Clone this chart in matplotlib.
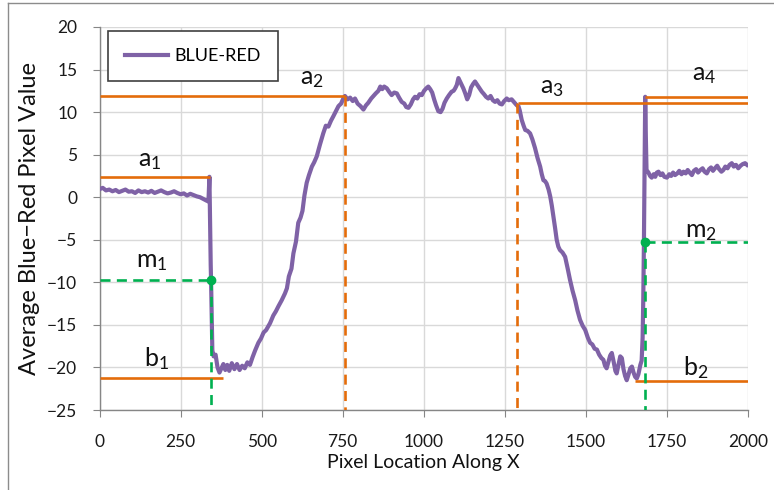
import matplotlib
matplotlib.use("Agg")
import matplotlib.pyplot as plt
from matplotlib.lines import Line2D

plt.rcParams['font.family'] = ['Lato', 'DejaVu Sans']
plt.rcParams['mathtext.fontset'] = 'custom'
plt.rcParams['mathtext.rm'] = 'Lato'
plt.rcParams['mathtext.it'] = 'Lato'

# ---- measured profile: average blue minus red along the row ----
pixel_x = [
    0, 10, 20, 30, 40, 50, 60, 70, 80, 90, 100, 110, 120, 130, 140, 150, 160, 170,
    180, 190, 200, 210, 220, 230, 240, 250, 260, 270, 280, 290, 300, 310, 320, 330,
    336, 339, 343, 344, 346, 348, 352, 358, 364, 370, 376, 382, 388, 394, 400, 408,
    416, 424, 432, 440, 448, 456, 464, 472, 480, 490, 498, 506, 514, 526, 536, 544,
    552, 562, 572, 578, 584, 592, 598, 606, 613, 620, 626, 632, 639, 646, 655, 662,
    670, 680, 690, 698, 706, 714, 721, 729, 737, 745, 752, 757, 765, 773, 781, 788,
    796, 805, 814, 822, 829, 838, 845, 852, 860, 866, 872, 878, 886, 893, 901, 909,
    917, 924, 932, 940, 946, 953, 960, 967, 973, 980, 987, 994, 1001, 1008, 1014,
    1020, 1026, 1032, 1038, 1045, 1052, 1058, 1064, 1071, 1078, 1086, 1092, 1097,
    1102, 1107, 1112, 1117, 1122, 1128, 1134, 1140, 1146, 1152, 1158, 1165, 1172,
    1179, 1186, 1192, 1199, 1206, 1213, 1220, 1227, 1234, 1241, 1248, 1256, 1262,
    1271, 1278, 1287, 1292, 1296, 1302, 1308, 1313, 1320, 1328, 1335, 1343, 1351,
    1359, 1364, 1369, 1374, 1379, 1385, 1390, 1395, 1400, 1405, 1410, 1415, 1420,
    1428, 1436, 1444, 1451, 1459, 1467, 1474, 1482, 1490, 1498, 1506, 1513, 1520,
    1527, 1534, 1541, 1548, 1554, 1559, 1564, 1570, 1575, 1580, 1586, 1591, 1595,
    1600, 1606, 1611, 1616, 1621, 1626, 1631, 1637, 1642, 1647, 1652, 1657, 1662,
    1668, 1672, 1675, 1677, 1679, 1681, 1683, 1685, 1687, 1693, 1698, 1703, 1709,
    1714, 1719, 1724, 1730, 1736, 1742, 1750, 1757, 1763, 1769, 1775, 1782, 1788,
    1795, 1801, 1808, 1814, 1820, 1827, 1833, 1840, 1846, 1853, 1860, 1866, 1873,
    1880, 1886, 1892, 1898, 1905, 1911, 1918, 1924, 1930, 1937, 1943, 1950, 1956,
    1963, 1970, 1977, 1984, 1991, 1997,
]
blue_red = [
    0.95, 1.1, 0.8, 0.9, 0.7, 0.85, 0.6, 0.75, 0.9, 0.65, 0.7, 0.5, 0.8, 0.6, 0.7,
    0.55, 0.75, 0.5, 0.65, 0.8, 0.6, 0.45, 0.55, 0.7, 0.5, 0.35, 0.45, 0.2, 0.4,
    0.25, 0.1, 0.0, -0.2, -0.4,
    -0.5, 2.4, -8.0, -9.7, -14.0, -18.0, -18.7, -18.5, -20.0, -20.6, -20.1, -19.6,
    -20.3, -19.7, -20.4, -19.5, -20.2, -19.6, -20.3, -19.8, -20.1, -19.4, -19.7,
    -18.8, -18.0, -17.1, -16.6, -15.9, -15.6, -14.8, -13.9, -13.4, -12.8, -12.1,
    -11.3, -10.7, -9.3, -8.4, -6.6, -5.2, -3.0, -2.4, -1.6, 0.2, 1.7, 2.6, 3.6, 4.1,
    4.8, 6.2, 7.5, 8.4, 8.3, 9.0, 9.5, 10.1, 10.7, 11.0, 11.6, 11.9, 11.5, 11.7,
    11.3, 11.6, 11.0, 10.7, 10.3, 10.8, 11.1, 11.6, 11.9, 12.2, 12.5, 13.0, 12.7,
    13.0, 12.8, 12.4, 12.0, 12.3, 12.2, 11.7, 11.2, 11.0, 10.6, 10.5, 10.9, 11.5,
    11.8, 11.6, 12.1, 12.0, 12.5, 12.8, 13.0, 12.7, 12.3, 11.5, 10.8, 10.1, 10.0,
    10.4, 11.1, 11.6, 12.0, 12.4, 12.5, 12.8, 13.2, 14.0, 13.6, 13.2, 12.8, 12.2,
    11.5, 12.0, 12.9, 13.3, 13.6, 13.2, 12.8, 12.4, 12.1, 11.8, 11.6, 11.9, 11.4,
    11.2, 11.4, 11.0, 10.9, 11.3, 11.6, 11.4, 11.5, 11.2, 10.8, 10.7, 10.2, 9.1,
    8.4, 7.9, 7.8, 7.5, 6.8, 5.8, 4.6, 3.6, 2.7, 2.0, 1.9, 1.6, 0.9, 0.1, -1.0,
    -2.3, -3.6, -5.0, -5.8, -6.2, -6.5, -7.0, -8.4, -9.7, -11.0, -12.1, -13.3,
    -14.4, -15.1, -15.6, -16.5, -17.1, -17.3, -17.8, -17.9, -18.5, -18.9, -19.1,
    -19.8, -20.1, -19.3, -18.6, -18.3, -19.4, -20.4, -20.7, -19.8, -18.7, -18.9,
    -20.2, -21.0, -21.5, -20.9, -20.1, -19.9, -20.6, -21.1, -21.3, -20.8, -19.7,
    -19.2, -16.5, -12.0, -5.4, 4.0, 11.8, 7.0, 3.2, 2.9, 2.5, 2.3, 2.7, 2.4, 2.9,
    3.0, 2.6, 2.8, 2.4, 2.3, 2.7, 2.5, 2.9, 2.6, 2.8, 3.1, 2.7, 3.0, 2.8, 3.2, 2.9,
    2.6, 3.1, 3.3, 2.9, 3.2, 3.4, 3.0, 2.8, 3.3, 3.5, 3.1, 3.4, 3.7, 3.3, 3.0, 3.2,
    3.6, 3.4, 3.8, 4.0, 3.6, 3.8, 3.4, 3.7, 3.9, 4.0, 3.8,
]

# ---- edge levels (orange), mid-points (green) ----
# name: (y level, x start, x end)
levels = {
    "a1": (2.4, 0, 340),
    "b1": (-21.25, 0, 382),
    "a2": (11.95, 0, 757),
    "a3": (11.05, 1292, 2000),
    "a4": (11.8, 1681, 2000),
    "b2": (-21.6, 1652, 2000),
}
drops = {"a2": 757, "a3": 1289}          # vertical dashed orange markers
mid_x = [345, 1681]
mid_y = [-9.75, -5.3]
mid_span = [(0, 345), (1681, 2000)]

label_text = ["a", "a", "a", "a", "m", "m", "b", "b"]
label_sub = ["1", "2", "3", "4", "1", "2", "1", "2"]
label_x = [155, 655, 1395, 1865, 160, 1855, 175, 1840]
label_y = [4.3, 14.0, 12.9, 14.4, -7.6, -4.0, -19.0, -20.0]

x_ticks = [0, 250, 500, 750, 1000, 1250, 1500, 1750, 2000]
y_ticks = [-25, -20, -15, -10, -5, 0, 5, 10, 15, 20]

PURPLE = "#7f62a6"
ORANGE = "#e46c0a"
GREEN = "#00b050"
GRID = "#d9d9d9"
AXIS = "#868686"

fig = plt.figure(figsize=(7.74, 4.90), dpi=100)
ax = fig.add_axes([99.5 / 774, 1 - 410 / 490, 648.5 / 774, 383 / 490])

line, = ax.plot(pixel_x, blue_red, color=PURPLE, lw=3.0, solid_joinstyle="round",
                zorder=3, label="BLUE-RED")

dash = (0, (3.8, 2.4))
for name, (yv, x0, x1) in levels.items():
    ax.plot([x0, x1], [yv, yv], color=ORANGE, lw=1.9, zorder=4,
            solid_capstyle="butt")
for name, xv in drops.items():
    ax.plot([xv, xv], [levels[name][0], -25], color=ORANGE, lw=1.9,
            linestyle=dash, zorder=4)
for xm, ym, (s0, s1) in zip(mid_x, mid_y, mid_span):
    ax.plot([s0, s1], [ym, ym], color=GREEN, lw=1.9, linestyle=dash, zorder=4)
    ax.plot([xm, xm], [ym, -25], color=GREEN, lw=1.9, linestyle=dash, zorder=4)
ax.plot(mid_x, mid_y, "o", color=GREEN, ms=6, zorder=5)

for t, s, xv, yv in zip(label_text, label_sub, label_x, label_y):
    ax.text(xv, yv, r"$\mathregular{%s_{%s}}$" % (t, s), fontsize=18,
            ha="center", va="center", color="#111111", zorder=6)

ax.set_xlim(0, 2000)
ax.set_ylim(-25, 20)
ax.set_xticks(x_ticks)
ax.set_yticks(y_ticks)
ax.grid(True, color=GRID, lw=1.0, zorder=0)
ax.set_axisbelow(True)
for side in ("top", "right"):
    ax.spines[side].set_visible(False)
for side in ("left", "bottom"):
    ax.spines[side].set_color(AXIS)
    ax.spines[side].set_linewidth(1.0)
ax.tick_params(axis="both", direction="out", length=5, color=AXIS,
               labelsize=12.5, labelcolor="#1a1a1a")
ax.tick_params(axis="x", pad=12)
ax.tick_params(axis="y", pad=11)

ax.set_xlabel("Pixel Location Along X", fontsize=14, color="#111111", labelpad=3)
ax.set_ylabel("Average Blue\u2212Red Pixel Value", fontsize=17, color="#111111",
              labelpad=5)

leg = ax.legend(handles=[line], loc="upper left",
                bbox_to_anchor=(107.7 / 774, 1 - 30.7 / 490),
                bbox_transform=fig.transFigure, borderaxespad=0,
                fontsize=13, frameon=True, fancybox=False, framealpha=1,
                borderpad=0.95, handlelength=2.4, handletextpad=0.35)
leg.get_frame().set_edgecolor("#404040")
leg.get_frame().set_linewidth(1.2)

# outer chart border (left and top edges)
fig.add_artist(Line2D([8 / 774, 8 / 774], [0, 1 - 3 / 490], color="#8c8c8c",
                      lw=1.0, transform=fig.transFigure))
fig.add_artist(Line2D([8 / 774, 1], [1 - 3 / 490, 1 - 3 / 490], color="#8c8c8c",
                      lw=1.0, transform=fig.transFigure))

fig.savefig("out.png", dpi=100)
